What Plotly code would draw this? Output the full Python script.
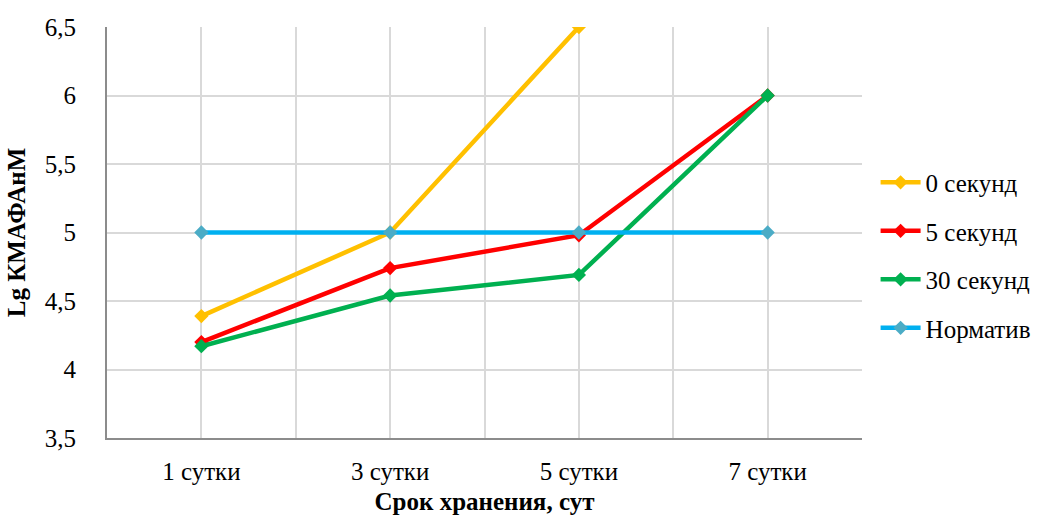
import plotly.graph_objects as go

# Storage time categories and measured Lg KMAFAnM values
days = ["1 сутки", "3 сутки", "5 сутки", "7 сутки"]
sec0 = [4.39, 5.0, 6.5, None]
sec5 = [4.20, 4.74, 4.98, 6.0]
sec30 = [4.17, 4.54, 4.69, 6.0]
norm = [5.0, 5.0, 5.0, 5.0]

series = [
    ("0 секунд", sec0, "#FFC000", "#FFC000"),
    ("5 секунд", sec5, "#FF0000", "#FF0000"),
    ("30 секунд", sec30, "#00B050", "#00B050"),
    ("Норматив", norm, "#00B0F0", "#4BACC6"),
]

x_idx = list(range(len(days)))
font_family = "Liberation Serif, Times New Roman, serif"
fs = 25

fig = go.Figure()
for i, (name, vals, line_col, mk_col) in enumerate(series):
    fig.add_trace(go.Scatter(
        x=x_idx, y=vals, name=name, mode="lines+markers",
        line=dict(color=line_col, width=4.5),
        marker=dict(symbol="diamond", size=11, color=mk_col),
        legendgroup=f"g{i}",
        connectgaps=False,
    ))

fig.update_layout(
    width=1050, height=520,
    margin=dict(l=107, r=188, t=27, b=82),
    paper_bgcolor="white", plot_bgcolor="white",
    font=dict(family=font_family, size=fs, color="black"),
    separators=", ",
    legend=dict(
        x=1.018, xanchor="left", y=0.445, yanchor="middle",
        font=dict(family=font_family, size=fs), traceorder="grouped",
        tracegroupgap=13, itemwidth=40,
    ),
    xaxis=dict(
        range=[-0.5, 3.5], automargin=False,
        tickmode="array", tickvals=x_idx, ticktext=days,
        tickfont=dict(family=font_family, size=fs),
        showgrid=True, gridcolor="#D9D9D9", gridwidth=1.5,
        minor=dict(tickmode="linear", tick0=-0.5, dtick=1, showgrid=True,
                   gridcolor="#D9D9D9", gridwidth=1.5, ticks=""),
        showline=True, linecolor="#8C8C8C", linewidth=2,
        ticks="", ticklabelstandoff=10,
        title=dict(text="<b>Срок хранения, сут</b>", standoff=8,
                   font=dict(family=font_family, size=fs)),
        zeroline=False,
    ),
    yaxis=dict(
        range=[3.5, 6.5], automargin=False,
        tickmode="linear", tick0=3.5, dtick=0.5,
        tickfont=dict(family=font_family, size=fs),
        showgrid=True, gridcolor="#D9D9D9", gridwidth=1.5,
        showline=True, linecolor="#8C8C8C", linewidth=2,
        ticks="", ticklabelstandoff=24,
        title=dict(text="<b>Lg КМАФАнМ</b>", standoff=12,
                   font=dict(family=font_family, size=fs)),
        zeroline=False,
    ),
)

fig.write_html("out.html")
